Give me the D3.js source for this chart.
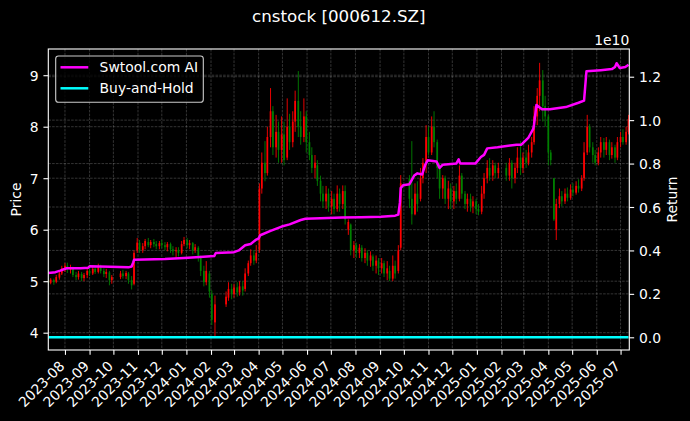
<!DOCTYPE html>
<html><head><meta charset="utf-8">
<script src="https://cdn.jsdelivr.net/npm/d3@7"></script>
<style>
html,body{margin:0;padding:0;background:#000;}
svg{display:block;font-family:"DejaVu Sans",sans-serif;}
</style></head><body>
<svg id="chart" width="690" height="421"></svg>
<script>
// ---- data ----
const dates = [
"2023-07-11","2023-07-14","2023-07-18","2023-07-21","2023-07-25","2023-07-28",
"2023-08-01","2023-08-04","2023-08-08","2023-08-11","2023-08-15","2023-08-18","2023-08-22","2023-08-25","2023-08-29",
"2023-09-01","2023-09-05","2023-09-08","2023-09-12","2023-09-15","2023-09-19","2023-09-22","2023-09-26","2023-09-29",
"2023-10-10","2023-10-13","2023-10-17","2023-10-20","2023-10-24","2023-10-27","2023-10-31",
"2023-11-03","2023-11-07","2023-11-10","2023-11-14","2023-11-17","2023-11-21","2023-11-24","2023-11-28",
"2023-12-01","2023-12-05","2023-12-08","2023-12-12","2023-12-15","2023-12-19","2023-12-22","2023-12-26","2023-12-29",
"2024-01-02","2024-01-05","2024-01-09","2024-01-12","2024-01-16","2024-01-19","2024-01-23","2024-01-26","2024-01-30",
"2024-02-02","2024-02-06","2024-02-20","2024-02-23","2024-02-27",
"2024-03-01","2024-03-05","2024-03-08","2024-03-12","2024-03-15","2024-03-19","2024-03-22","2024-03-26","2024-03-29",
"2024-04-02","2024-04-05","2024-04-09","2024-04-12","2024-04-16","2024-04-19","2024-04-23","2024-04-26","2024-04-30",
"2024-05-03","2024-05-07","2024-05-10","2024-05-14","2024-05-17","2024-05-21","2024-05-24","2024-05-28","2024-05-31",
"2024-06-04","2024-06-07","2024-06-11","2024-06-14","2024-06-18","2024-06-21","2024-06-25","2024-06-28",
"2024-07-02","2024-07-05","2024-07-09","2024-07-12","2024-07-16","2024-07-19","2024-07-23","2024-07-26","2024-07-30",
"2024-08-02","2024-08-06","2024-08-09","2024-08-13","2024-08-16","2024-08-20","2024-08-23","2024-08-27","2024-08-30",
"2024-09-03","2024-09-06","2024-09-10","2024-09-13","2024-09-17","2024-09-20","2024-09-24","2024-09-27",
"2024-10-08","2024-10-11","2024-10-15","2024-10-18","2024-10-22","2024-10-25","2024-10-29",
"2024-11-01","2024-11-05","2024-11-08","2024-11-12","2024-11-15","2024-11-19","2024-11-22","2024-11-26","2024-11-29",
"2024-12-03","2024-12-06","2024-12-10","2024-12-13","2024-12-17","2024-12-20","2024-12-24","2024-12-27","2024-12-31",
"2025-01-03","2025-01-07","2025-01-10","2025-01-14","2025-01-17","2025-01-21","2025-01-24","2025-01-28",
"2025-02-07","2025-02-11","2025-02-14","2025-02-18","2025-02-21","2025-02-25","2025-02-28",
"2025-03-04","2025-03-07","2025-03-11","2025-03-14","2025-03-18","2025-03-21","2025-03-25","2025-03-28",
"2025-04-01","2025-04-04","2025-04-08","2025-04-11","2025-04-15","2025-04-18","2025-04-22","2025-04-25","2025-04-29",
"2025-05-02","2025-05-06","2025-05-09","2025-05-13","2025-05-16","2025-05-20","2025-05-23","2025-05-27","2025-05-30",
"2025-06-03","2025-06-06","2025-06-10","2025-06-13","2025-06-17","2025-06-20","2025-06-24","2025-06-27",
"2025-07-01","2025-07-04","2025-07-08","2025-07-11"];

const open = [
5.02,4.97,5.02,4.99,5.07,5.15,
5.25,5.30,5.22,5.25,5.12,5.08,5.14,5.06,5.12,
5.20,5.15,5.24,5.18,5.28,5.20,5.14,5.17,5.02,
5.08,5.15,5.10,5.15,5.02,4.95,5.60,
5.75,5.60,5.68,5.76,5.70,5.76,5.72,5.68,
5.74,5.70,5.66,5.72,5.62,5.58,5.60,5.55,5.72,
5.80,5.70,5.74,5.60,5.65,5.45,5.20,4.98,5.15,
4.75,4.20,4.55,4.68,4.85,
4.75,4.88,4.78,4.90,4.85,5.15,5.35,5.50,5.40,
5.60,6.80,7.30,7.10,7.80,8.30,7.60,7.90,7.55,
7.85,7.40,8.00,7.70,8.10,8.50,8.00,7.80,8.20,
7.70,7.45,7.20,7.25,6.95,6.70,6.55,6.70,
6.45,6.60,6.40,6.70,6.50,6.75,6.00,6.10,5.60,
5.70,5.55,5.65,5.45,5.55,5.40,5.48,5.30,5.40,
5.25,5.35,5.15,5.20,5.05,5.30,5.20,5.65,
7.00,6.60,6.30,6.70,6.60,7.00,7.30,
7.80,7.50,8.00,7.70,7.20,6.80,7.00,6.60,6.80,
6.55,6.75,6.60,7.05,6.70,6.50,6.60,6.45,6.55,
6.40,6.35,6.70,7.00,7.20,7.05,7.25,7.10,
7.20,7.05,7.30,7.00,7.20,7.40,7.20,
7.40,7.30,7.50,7.70,8.20,8.60,8.90,8.40,
8.20,7.50,7.00,6.00,6.50,6.65,6.55,6.70,6.62,
6.78,6.72,6.85,6.80,7.00,7.50,8.00,7.60,7.45,
7.30,7.50,7.70,7.55,7.70,7.45,7.60,7.40,
7.70,7.80,7.70,7.90];

const high = [
5.06,5.06,5.05,5.12,5.20,5.30,
5.35,5.36,5.32,5.28,5.18,5.20,5.18,5.16,5.25,
5.26,5.30,5.30,5.34,5.32,5.25,5.24,5.20,5.12,
5.20,5.22,5.20,5.18,5.10,5.60,5.84,
5.80,5.74,5.82,5.84,5.80,5.82,5.78,5.78,
5.80,5.76,5.76,5.75,5.68,5.66,5.66,5.78,5.86,
5.84,5.80,5.76,5.72,5.68,5.50,5.30,5.39,5.20,
4.82,4.72,4.80,4.98,4.95,
4.95,4.98,5.00,5.00,5.25,5.40,5.62,5.60,5.70,
6.90,7.50,7.72,8.00,8.75,8.40,8.23,8.10,8.20,
8.10,8.55,8.25,8.30,8.70,9.08,8.30,8.55,8.30,
7.90,7.60,7.45,7.35,7.05,6.85,6.85,6.80,
6.75,6.70,6.86,6.80,6.86,6.86,6.20,6.12,5.78,
5.75,5.72,5.70,5.64,5.60,5.58,5.52,5.50,5.45,
5.45,5.40,5.39,5.30,5.50,5.40,5.70,7.06,
7.06,7.72,6.90,6.94,7.20,7.39,8.03,
8.00,8.20,8.30,7.75,7.30,7.06,7.05,6.95,6.90,
6.85,6.90,7.25,7.10,6.75,6.70,6.70,6.65,6.60,
6.50,6.85,7.10,7.35,7.39,7.35,7.30,7.30,
7.30,7.39,7.35,7.30,7.60,7.72,7.50,
7.55,7.65,7.80,8.40,8.75,9.24,9.10,8.60,
8.23,7.55,7.00,6.60,6.80,6.75,6.80,6.82,6.88,
6.90,6.94,6.98,7.06,7.70,8.23,8.05,7.70,7.55,
7.60,7.80,7.78,7.80,7.75,7.70,7.65,7.80,
7.90,7.95,8.00,8.23];

const low = [
4.93,4.94,4.93,4.96,5.03,5.12,
5.18,5.16,5.15,5.08,5.02,5.03,5.00,5.00,5.06,
5.10,5.12,5.14,5.15,5.15,5.08,5.06,4.92,4.95,
5.04,5.05,5.04,4.95,4.84,4.92,5.55,
5.55,5.55,5.62,5.66,5.64,5.66,5.62,5.62,
5.64,5.60,5.58,5.55,5.50,5.46,5.48,5.52,5.68,
5.64,5.62,5.52,5.55,5.38,5.10,4.90,4.92,4.68,
4.15,3.93,4.50,4.62,4.65,
4.68,4.70,4.72,4.72,4.80,5.10,5.30,5.32,5.35,
5.55,6.70,6.94,7.05,7.60,7.45,7.40,7.30,7.30,
7.25,7.35,7.55,7.60,7.90,7.80,7.65,7.70,7.50,
7.35,7.10,7.00,6.85,6.55,6.42,6.40,6.35,
6.30,6.30,6.35,6.35,6.40,6.10,5.90,5.50,5.45,
5.45,5.45,5.38,5.35,5.30,5.28,5.20,5.15,5.12,
5.15,5.08,5.02,5.00,5.00,5.05,5.15,5.60,
6.42,6.10,6.28,6.35,6.55,6.90,7.10,
7.45,7.45,7.60,7.00,6.60,6.60,6.50,6.40,6.40,
6.40,6.50,6.55,6.60,6.40,6.35,6.35,6.32,6.30,
6.28,6.30,6.60,6.90,6.95,6.95,7.00,7.00,
6.95,6.95,6.80,6.90,7.10,7.06,7.10,
7.20,7.25,7.40,7.65,8.03,8.30,8.10,8.00,
7.25,7.25,6.17,5.80,6.42,6.45,6.50,6.55,6.58,
6.65,6.68,6.72,6.75,6.95,7.45,7.50,7.30,7.25,
7.25,7.40,7.40,7.45,7.35,7.38,7.30,7.35,
7.60,7.65,7.65,7.85];

const close = [
4.97,5.03,4.98,5.08,5.15,5.25,
5.30,5.22,5.26,5.12,5.08,5.15,5.06,5.12,5.20,
5.15,5.24,5.18,5.28,5.20,5.14,5.18,5.02,5.08,
5.15,5.10,5.16,5.02,4.92,5.55,5.75,
5.60,5.68,5.78,5.70,5.76,5.72,5.68,5.74,
5.70,5.66,5.72,5.62,5.58,5.60,5.55,5.72,5.80,
5.70,5.74,5.60,5.66,5.45,5.20,4.98,5.20,4.80,
4.25,4.55,4.70,4.85,4.75,
4.88,4.78,4.90,4.82,5.15,5.35,5.50,5.40,5.55,
6.80,7.30,7.10,7.80,8.30,7.60,7.90,7.55,7.85,
7.35,8.00,7.70,8.10,8.50,8.00,7.80,8.20,7.70,
7.45,7.20,7.30,6.95,6.70,6.55,6.70,6.45,
6.60,6.40,6.70,6.50,6.75,6.20,6.15,5.60,5.70,
5.55,5.65,5.45,5.55,5.40,5.50,5.30,5.40,5.25,
5.35,5.15,5.25,5.05,5.30,5.15,5.60,6.90,
6.60,6.30,6.70,6.50,7.00,7.30,7.80,
7.50,8.00,7.70,7.20,6.80,7.00,6.60,6.80,6.55,
6.75,6.60,7.05,6.70,6.50,6.60,6.45,6.55,6.40,
6.35,6.70,7.00,7.20,7.05,7.25,7.10,7.20,
7.05,7.30,7.00,7.20,7.40,7.20,7.40,
7.30,7.50,7.70,8.20,8.60,8.90,8.40,8.20,
7.50,7.35,6.20,6.50,6.65,6.55,6.70,6.62,6.78,
6.72,6.85,6.80,7.00,7.50,8.00,7.60,7.45,7.30,
7.50,7.70,7.55,7.70,7.45,7.60,7.40,7.70,
7.80,7.70,7.90,8.15];

// Swtool.com AI strategy return (raw values, shown in units of 1e10)
const stratDates = [
"2023-07-11","2023-07-20","2023-07-26","2023-08-03","2023-08-21","2023-08-30","2023-09-01","2023-09-27",
"2023-10-20","2023-10-24","2023-10-26","2023-10-27","2023-12-05","2023-12-29","2024-01-18","2024-02-05",
"2024-02-07","2024-03-01","2024-03-07","2024-03-15","2024-03-22","2024-03-29","2024-04-01","2024-04-03",
"2024-04-16","2024-04-30","2024-05-10","2024-05-24","2024-05-30","2024-06-18","2024-07-15","2024-08-08",
"2024-09-02","2024-09-20","2024-09-24","2024-09-26","2024-09-27","2024-09-30","2024-10-08","2024-10-11",
"2024-10-14","2024-10-18","2024-10-24","2024-10-28","2024-10-31","2024-11-11","2024-11-15","2024-11-19",
"2024-12-06","2024-12-09","2024-12-11","2024-12-30","2025-01-06","2025-01-10","2025-01-14","2025-01-27",
"2025-02-20","2025-02-26","2025-03-07","2025-03-13","2025-03-14","2025-03-17","2025-03-24","2025-04-03",
"2025-04-23","2025-05-09","2025-05-16","2025-05-19","2025-06-06","2025-06-20","2025-06-24","2025-06-26",
"2025-06-30","2025-07-07","2025-07-11"];
const stratValues = [
2.96e9,3.00e9,3.07e9,3.18e9,3.18e9,3.20e9,3.27e9,3.25e9,
3.22e9,3.26e9,3.45e9,3.57e9,3.60e9,3.65e9,3.70e9,3.74e9,
3.88e9,3.92e9,4.00e9,4.24e9,4.30e9,4.50e9,4.55e9,4.70e9,
4.90e9,5.10e9,5.20e9,5.40e9,5.46e9,5.48e9,5.52e9,5.53e9,
5.55e9,5.60e9,5.65e9,6.20e9,6.87e9,7.00e9,7.05e9,7.25e9,
7.45e9,7.55e9,7.50e9,7.95e9,8.15e9,8.10e9,7.80e9,7.95e9,
8.00e9,8.20e9,8.00e9,8.00e9,8.30e9,8.40e9,8.70e9,8.75e9,
8.87e9,8.87e9,9.20e9,9.60e9,9.80e9,10.70e9,10.50e9,10.50e9,
10.60e9,10.80e9,10.90e9,12.25e9,12.30e9,12.35e9,12.45e9,12.62e9,
12.40e9,12.45e9,12.55e9];

// Buy-and-Hold return (raw fraction)
const bhDates = ["2023-07-11","2023-08-01","2023-09-01","2023-10-10","2023-11-03","2023-12-01","2024-01-02","2024-02-06",
"2024-03-01","2024-04-02","2024-05-07","2024-06-04","2024-07-02","2024-08-02","2024-09-03","2024-10-08","2024-11-01",
"2024-12-03","2025-01-03","2025-02-07","2025-03-04","2025-04-01","2025-05-06","2025-06-03","2025-07-11"];
const bhValues = [0.00,0.05,0.03,0.02,0.14,0.14,0.14,-0.12,-0.02,0.36,0.60,0.49,0.32,0.11,0.07,0.32,0.50,
0.35,0.27,0.41,0.46,0.50,0.37,0.50,0.63];

const monthTicks = ["2023-08","2023-09","2023-10","2023-11","2023-12","2024-01","2024-02","2024-03","2024-04",
"2024-05","2024-06","2024-07","2024-08","2024-09","2024-10","2024-11","2024-12","2025-01","2025-02","2025-03",
"2025-04","2025-05","2025-06","2025-07"];
const priceTicks = [4,5,6,7,8,9];
const returnTicks = [0,0.2e10,0.4e10,0.6e10,0.8e10,1.0e10,1.2e10];
const returnTickLabels = ["0.0","0.2","0.4","0.6","0.8","1.0","1.2"];
const seriesNames = ["Swtool.com AI","Buy-and-Hold"];
const titleText = "cnstock [000612.SZ]";

// ---- layout ----
const W = 690, H = 421, L = 48.3, R = 629.3, T = 49, B = 350;
const FS = 13.9, tickLen = 4.86, pad = 4.86;
const parseD = d3.utcParse("%Y-%m-%d"), parseM = d3.utcParse("%Y-%m");
const svg = d3.select("#chart");
svg.append("rect").attr("width", W).attr("height", H).attr("fill", "#000");
svg.append("defs").append("clipPath").attr("id", "clip")
  .append("rect").attr("x", L).attr("y", T).attr("width", R - L).attr("height", B - T);

const x = d3.scaleUtc().domain([parseD("2023-07-11"), parseD("2025-07-12")]).range([L, R]);
const yP = d3.scaleLinear().domain([3.664, 9.509]).range([B, T]);
const yR = d3.scaleLinear().domain([-0.0585e10, 1.3276e10]).range([B, T]);

const D = dates.map(parseD);
const MT = monthTicks.map(parseM);

// grid
const grid = svg.append("g").attr("stroke", "#b0b0b0").attr("stroke-opacity", 0.5)
  .attr("stroke-width", 0.6).attr("stroke-dasharray", "2.6,1.2");
grid.selectAll("line.v").data(MT).join("line").attr("class", "v")
  .attr("x1", d => x(d)).attr("x2", d => x(d)).attr("y1", T).attr("y2", B);
grid.selectAll("line.hp").data(priceTicks).join("line").attr("class", "hp")
  .attr("x1", L).attr("x2", R).attr("y1", d => yP(d)).attr("y2", d => yP(d));
grid.selectAll("line.hr").data(returnTicks).join("line").attr("class", "hr")
  .attr("x1", L).attr("x2", R).attr("y1", d => yR(d)).attr("y2", d => yR(d));

// candles
const n = Math.min(D.length, open.length, high.length, low.length, close.length);
const idx = d3.range(n);
const col = i => close[i] >= open[i] ? "#ff0000" : "#008000";
const gc = svg.append("g").attr("clip-path", "url(#clip)");
gc.selectAll("line.wick").data(idx).join("line").attr("class", "wick")
  .attr("x1", i => x(D[i])).attr("x2", i => x(D[i]))
  .attr("y1", i => yP(high[i])).attr("y2", i => yP(low[i]))
  .attr("stroke", col).attr("stroke-width", 0.9);
const bw = 1.7;
gc.selectAll("rect.body").data(idx).join("rect").attr("class", "body")
  .attr("x", i => x(D[i]) - bw / 2).attr("width", bw)
  .attr("y", i => yP(Math.max(open[i], close[i])))
  .attr("height", i => Math.max(0.8, Math.abs(yP(open[i]) - yP(close[i]))))
  .attr("fill", col);

// return lines
const gl = svg.append("g").attr("clip-path", "url(#clip)");
const SD = stratDates.map(parseD), BD = bhDates.map(parseD);
gl.append("path").datum(d3.range(bhValues.length))
  .attr("d", d3.line().x(i => x(BD[i])).y(i => yR(bhValues[i])))
  .attr("fill", "none").attr("stroke", "#00ffff").attr("stroke-width", 2.5);
gl.append("path").datum(d3.range(stratValues.length))
  .attr("d", d3.line().x(i => x(SD[i])).y(i => yR(stratValues[i])))
  .attr("fill", "none").attr("stroke", "#ff00ff").attr("stroke-width", 2.5)
  .attr("stroke-linejoin", "round");

// spines
svg.append("rect").attr("x", L).attr("y", T).attr("width", R - L).attr("height", B - T)
  .attr("fill", "none").attr("stroke", "#fff").attr("stroke-width", 1.1);

// axes
function styleAxis(g) {
  g.select(".domain").remove();
  g.selectAll(".tick line").attr("stroke", "#fff").attr("stroke-width", 1.1);
  g.selectAll(".tick text").attr("fill", "#fff").style("font-size", FS + "px")
    .style("font-family", "DejaVu Sans");
}
const ax = svg.append("g").attr("transform", `translate(0,${B})`)
  .call(d3.axisBottom(x).tickValues(MT).tickSize(tickLen).tickFormat(d3.utcFormat("%Y-%m")));
styleAxis(ax);
ax.selectAll(".tick text").attr("y", null).attr("dy", null).attr("x", null)
  .attr("text-anchor", "end")
  .attr("transform", `translate(0,${tickLen + pad + 7.2}) rotate(-45)`);

const ayl = svg.append("g").attr("transform", `translate(${L},0)`)
  .call(d3.axisLeft(yP).tickValues(priceTicks).tickSize(tickLen).tickPadding(pad).tickFormat(d3.format("d")));
styleAxis(ayl);
ayl.selectAll(".tick text").attr("dy", "0.36em");

const ayr = svg.append("g").attr("transform", `translate(${R},0)`)
  .call(d3.axisRight(yR).tickValues(returnTicks).tickSize(tickLen).tickPadding(pad)
    .tickFormat((d, i) => returnTickLabels[i]));
styleAxis(ayr);
ayr.selectAll(".tick text").attr("dy", "0.36em");

// labels
const txt = (xx, yy, s, size, anchor, rot) => {
  const t = svg.append("text").attr("fill", "#fff").style("font-size", size + "px")
    .attr("text-anchor", anchor).text(s);
  t.attr("transform", `translate(${xx},${yy})` + (rot ? ` rotate(${rot})` : ""));
  return t;
};
txt((L + R) / 2, 22, titleText, 16.7, "middle");
txt(R, 44.5, "1e10", FS, "end");
txt(21, (T + B) / 2, "Price", FS, "middle", -90);
txt(677, (T + B) / 2, "Return", FS, "middle", -90);

// legend
const lg = svg.append("g");
lg.append("rect").attr("x", 55.7).attr("y", 56).attr("width", 147.6).attr("height", 46.3)
  .attr("rx", 2.8).attr("fill", "#000").attr("fill-opacity", 0.8)
  .attr("stroke", "#cccccc").attr("stroke-width", 1.1);
const legColors = ["#ff00ff", "#00ffff"];
seriesNames.forEach((s, i) => {
  const yy = 67.3 + i * 21;
  lg.append("line").attr("x1", 60.5).attr("x2", 88.3).attr("y1", yy).attr("y2", yy)
    .attr("stroke", legColors[i]).attr("stroke-width", 2.5);
  lg.append("text").attr("x", 99.6).attr("y", yy + 5.1).attr("fill", "#fff")
    .style("font-size", FS + "px").text(s);
});
</script>
</body></html>
